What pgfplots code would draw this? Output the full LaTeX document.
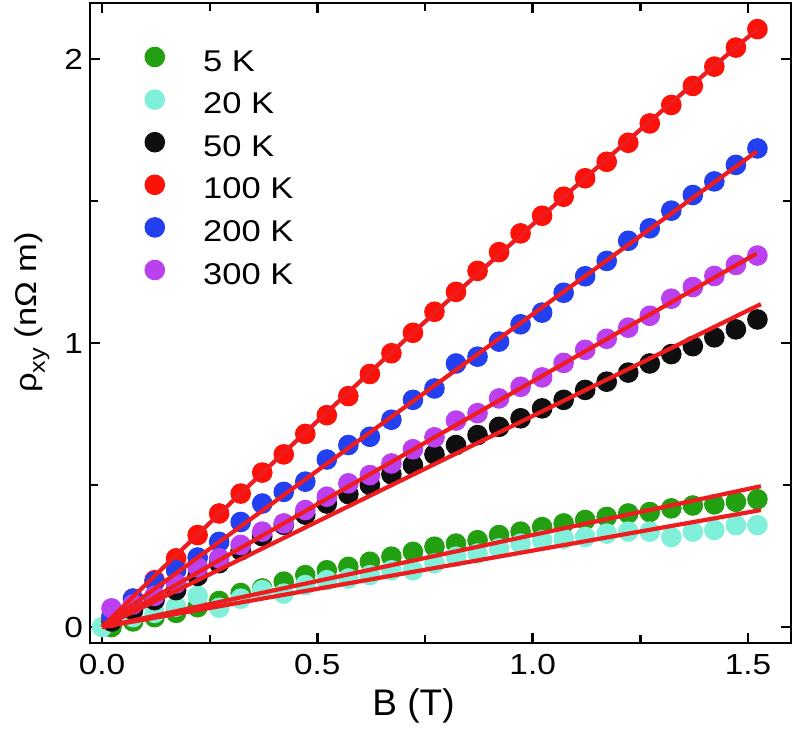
\documentclass[border=0pt]{standalone}
\usepackage{pgfplots}
\pgfplotsset{compat=1.18}
\usepackage{pgfplotstable}
\usepackage{fontspec}
\setmainfont{Liberation Sans}
\newfontfamily\widefont{Liberation Sans}[FakeStretch=1.15]

\definecolor{cgreen}{RGB}{34,160,18}
\definecolor{ccyan}{RGB}{128,240,218}
\definecolor{cblack}{RGB}{15,15,15}
\definecolor{cred}{RGB}{252,18,8}
\definecolor{cblue}{RGB}{34,64,240}
\definecolor{cpurple}{RGB}{186,64,240}
\definecolor{cfit}{RGB}{238,28,30}

\pgfplotstableread{
B      g      k      r      b      p
0.022 0.000 0.020 0.033 0.040 0.066
0.072 0.020 0.060 0.100 0.100 0.080
0.122 0.035 0.095 0.165 0.160 0.110
0.172 0.050 0.130 0.242 0.200 0.154
0.222 0.070 0.180 0.324 0.245 0.210
0.272 0.092 0.225 0.400 0.300 0.242
0.322 0.120 0.270 0.470 0.370 0.289
0.372 0.136 0.320 0.544 0.435 0.336
0.422 0.160 0.360 0.608 0.476 0.365
0.472 0.183 0.396 0.680 0.512 0.412
0.522 0.200 0.435 0.746 0.590 0.459
0.572 0.212 0.468 0.813 0.641 0.506
0.622 0.230 0.500 0.891 0.670 0.535
0.672 0.248 0.538 0.964 0.730 0.576
0.722 0.265 0.570 1.036 0.800 0.626
0.772 0.283 0.608 1.110 0.840 0.668
0.822 0.294 0.641 1.180 0.928 0.727
0.872 0.306 0.676 1.254 0.952 0.753
0.922 0.324 0.705 1.320 1.005 0.805
0.972 0.336 0.735 1.386 1.066 0.846
1.022 0.352 0.770 1.448 1.107 0.879
1.072 0.365 0.800 1.515 1.177 0.930
1.122 0.377 0.835 1.580 1.235 0.976
1.172 0.388 0.864 1.638 1.289 1.015
1.222 0.400 0.896 1.705 1.360 1.054
1.272 0.405 0.928 1.773 1.404 1.096
1.322 0.418 0.961 1.838 1.466 1.156
1.372 0.428 0.989 1.905 1.521 1.197
1.422 0.432 1.020 1.973 1.569 1.236
1.472 0.441 1.048 2.040 1.627 1.275
1.522 0.450 1.083 2.105 1.685 1.308
}\data

\pgfplotstableread{
B      c
0.000 0.000
0.072 0.035
0.122 0.050
0.172 0.072
0.222 0.110
0.272 0.068
0.322 0.100
0.372 0.130
0.422 0.118
0.472 0.148
0.522 0.165
0.572 0.171
0.622 0.183
0.672 0.200
0.722 0.200
0.772 0.224
0.822 0.248
0.872 0.259
0.922 0.277
0.972 0.294
1.022 0.306
1.072 0.311
1.122 0.317
1.172 0.329
1.222 0.336
1.272 0.336
1.322 0.317
1.372 0.336
1.422 0.342
1.472 0.359
1.522 0.359
}\cyandata

\begin{document}
\begin{tikzpicture}
\begin{axis}[
  at={(0,0)}, anchor=south west,
  scale only axis, width=350.5pt, height=320pt,
  xmin=-0.028, xmax=1.6, ymin=-0.056, ymax=2.197,
  clip marker paths=true,
  xtick={0,0.5,1,1.5}, minor xtick={0.25,0.75,1.25},
  xticklabels={0.0,0.5,1.0,1.5},
  ytick={0,1,2}, minor ytick={0.5,1.5},
  yticklabels={0,1,2},
  tick align=inside,
  major tick length=5pt, minor tick length=4pt,
  every tick/.style={black, line width=1.2pt},
  axis line style={line width=1.3pt},
  /pgf/number format/assume math mode=true,
  tick label style={font=\widefont\fontsize{14.5}{17}\selectfont},
  xticklabel style={yshift=-2.3pt},
  xlabel={B (T)},
  xlabel style={at={(axis description cs:0.4615,-0.1125)}, anchor=base, font=\fontsize{18.5}{22}\selectfont},
  ylabel={ρ\raisebox{-4pt}{\fontsize{11}{13}\selectfont xy} (nΩ m)},
  ylabel style={at={(axis description cs:-0.0756,0.5164)}, anchor=base, font=\widefont\fontsize{15}{18}\selectfont},
  legend cell align=left,
  legend image code/.code={\draw[#1] plot coordinates {(0cm,0cm)};},
  legend style={at={(0,1)}, anchor=north west, xshift=27.5pt, yshift=-20pt,
    draw=none, fill=none, inner sep=0pt, outer sep=0pt,
    font=\widefont\fontsize{15}{18}\selectfont,
    row sep=7.3pt, column sep=19.3pt,
    nodes={inner sep=0pt, text height=14pt, text depth=0pt}},
  mkstyle/.style={only marks, mark=*, mark size=4.9pt, color=#1, mark options={line width=0.5pt, draw=#1, fill=#1}},
  fitstyle/.style={forget plot, cfit, line width=2.1pt, no marks},
]
\addplot[mkstyle=cgreen] table[x=B, y=g] {\data};
\addlegendentry{5 K}
\addplot[mkstyle=ccyan] table[x=B, y=c] {\cyandata};
\addlegendentry{20 K}
\addplot[mkstyle=cblack] table[x=B, y=k] {\data};
\addlegendentry{50 K}
\addplot[mkstyle=cred] table[x=B, y=r] {\data};
\addlegendentry{100 K}
\addplot[mkstyle=cblue] table[x=B, y=b] {\data};
\addlegendentry{200 K}
\addplot[mkstyle=cpurple] table[x=B, y=p] {\data};
\addlegendentry{300 K}
% fits
\addplot[fitstyle] coordinates {(0,0) (1.53,0.496)};
\addplot[fitstyle] coordinates {(0,0) (1.53,0.412)};
\addplot[fitstyle] coordinates {(0,0) (1.53,1.137)};
\addplot[fitstyle] coordinates {(0,0) (1.52,1.674)};
\addplot[fitstyle] coordinates {(0,0) (1.52,1.315)};
\addplot[fitstyle, smooth] coordinates {
(0,0) (0.1,0.1476) (0.2,0.2938) (0.3,0.4388) (0.4,0.5824) (0.5,0.7248)
(0.6,0.8658) (0.7,1.0056) (0.8,1.1440) (0.9,1.2812) (1.0,1.4170)
(1.1,1.5516) (1.2,1.6848) (1.3,1.8168) (1.4,1.9474) (1.5,2.0768) (1.525,2.1090)};
\end{axis}
\pgfresetboundingbox
\useasboundingbox (-45pt,-42.5pt) rectangle (353pt,321.5pt);
\end{tikzpicture}
\end{document}
